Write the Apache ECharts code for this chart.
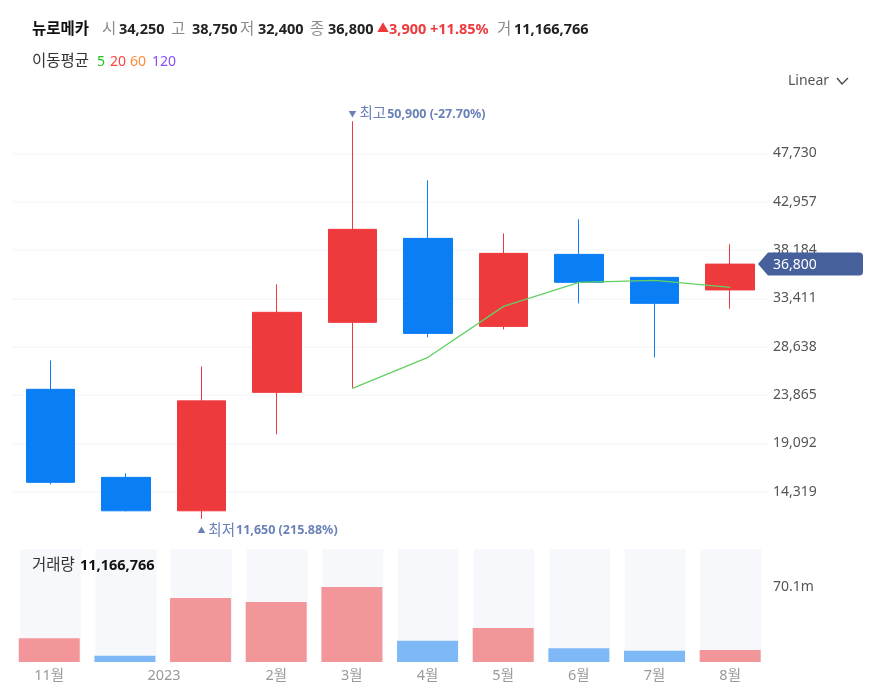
<!DOCTYPE html>
<html>
<head>
<meta charset="utf-8">
<style>
  html, body { margin: 0; padding: 0; background: #fff; }
  #chart { width: 880px; height: 692px; }
</style>
<script src="https://cdn.jsdelivr.net/npm/echarts@6/dist/echarts.min.js"></script>
</head>
<body>
<div id="chart"></div>
<script>
// 월봉 데이터
var months = ['11월', '', '2023', '2월', '3월', '4월', '5월', '6월', '7월', '8월'];
var opens  = [24440, 15750, 12450, 24140, 31050, 39340, 30650, 37760, 35490, 34250];
var closes = [15260, 12450, 23300, 32040, 40230, 29960, 37860, 35000, 32925, 36800];
var lows   = [15060, 12400, 11650, 20000, 24530, 29570, 30350, 32925, 27600, 32400];
var highs  = [27300, 16150, 26700, 34800, 50900, 45065, 39830, 41215, 35490, 38750];
var volumes = [22.2, 5.9, 59.8, 56.1, 70.1, 19.9, 31.8, 12.8, 10.6, 11.17];
var volumeUp = [true, false, true, true, true, false, true, false, false, true];
var ma5 = [null, null, null, null, 24530, 27600, 32630, 35000, 35200, 34500];
var volumeTicks = [70.1];

var stockName = '뉴로메카';
var quoteLabels = ['시', '고', '저', '종', '거'];
var quoteValues = ['34,250', '38,750', '32,400', '36,800', '11,166,766'];
var changeText = ['▲', '3,900', '+11.85%'];
var maNames = ['5', '20', '60', '120'];
var highText = '50,900 (-27.70%)';
var lowText = '11,650 (215.88%)';
var volumeText = '11,166,766';

var FONT = '"Noto Sans", "Noto Sans CJK KR", sans-serif';
var RED = '#ef3a3d', BLUE = '#0a7ef5';
var VOL_RED = '#f2969a', VOL_BLUE = '#7fb8f7';
var MARK = '#6a81b8';

function txt(x, y, text, fill, size, weight) {
  return {
    type: 'text', x: x, y: y, z: 100, silent: true,
    style: {
      text: text, fill: fill, fontFamily: FONT, fontSize: size || 14,
      fontWeight: weight || 'normal', verticalAlign: 'middle', align: 'left'
    }
  };
}

var gLabel = '#8c8c8c', gValue = '#222';
var headerY = 30, HAN = 15.5, NUM = 14.5;
var graphics = [
  txt(32, headerY, stockName, '#111', HAN, 'bold'),
  txt(102, headerY, quoteLabels[0], gLabel, HAN), txt(119, headerY, quoteValues[0], gValue, NUM, 'bold'),
  txt(171, headerY, quoteLabels[1], gLabel, HAN), txt(192, headerY, quoteValues[1], gValue, NUM, 'bold'),
  txt(240, headerY, quoteLabels[2], gLabel, HAN), txt(258, headerY, quoteValues[2], gValue, NUM, 'bold'),
  txt(310, headerY, quoteLabels[3], gLabel, HAN), txt(328, headerY, quoteValues[3], gValue, NUM, 'bold'),
  txt(377, headerY, changeText[0], RED, 12), txt(389, headerY, changeText[1], RED, NUM, 'bold'),
  txt(430, headerY, changeText[2], RED, NUM, 'bold'),
  txt(497, headerY, quoteLabels[4], gLabel, HAN), txt(514, headerY, quoteValues[4], gValue, NUM, 'bold'),
  txt(32, 62, '이동평균', '#333', HAN),
  txt(97, 62, maNames[0], '#22c422'), txt(110, 62, maNames[1], '#ff4040'),
  txt(130, 62, maNames[2], '#ff8a3c'), txt(152, 62, maNames[3], '#8a4dff'),
  txt(788, 81, 'Linear', '#555'),
  {
    type: 'polyline', silent: true, z: 100,
    shape: { points: [[837, 78], [842, 84], [848, 78]] },
    style: { stroke: '#444', lineWidth: 1.3, fill: 'none' }
  },
  txt(32, 566, '거래량', '#333', HAN),
  txt(80, 566, volumeText, '#111', NUM, 'bold')
];

var candleData = opens.map(function(o, i) { return [o, closes[i], lows[i], highs[i]]; });
var volumeData = volumes.map(function(v, i) {
  return { value: v, itemStyle: { color: volumeUp[i] ? VOL_RED : VOL_BLUE } };
});

function markLabel(arrow, word, text, dx, dy) {
  return {
    show: true, position: 'right', distance: 0, offset: [dx, dy],
    formatter: '{a|' + arrow + '}{w|' + word + '}{b|' + text + '}',
    rich: {
      a: { color: MARK, fontFamily: FONT, fontSize: 8, padding: [0, 3, 0, 0] },
      w: { color: MARK, fontFamily: FONT, fontSize: 14.5, padding: [0, 1, 0, 0] },
      b: { color: MARK, fontFamily: FONT, fontSize: 12.5, fontWeight: 'bold' }
    }
  };
}

var hiIdx = highs.indexOf(Math.max.apply(null, highs));
var loIdx = lows.indexOf(Math.min.apply(null, lows));
var last = closes.length - 1;

function renderLastTag(params, api) {
  var y = api.coord([api.value(0), api.value(1)])[1];
  var right = params.coordSys.x + params.coordSys.width;
  return {
    type: 'group',
    children: [
      {
        type: 'path',
        shape: {
          pathData: 'M' + (right - 10) + ' ' + y +
            'L' + right + ' ' + (y - 11.5) + 'L' + (right + 91) + ' ' + (y - 11.5) +
            'Q' + (right + 95) + ' ' + (y - 11.5) + ' ' + (right + 95) + ' ' + (y - 8) +
            'L' + (right + 95) + ' ' + (y + 8) +
            'Q' + (right + 95) + ' ' + (y + 11.5) + ' ' + (right + 91) + ' ' + (y + 11.5) +
            'L' + right + ' ' + (y + 11.5) + 'Z'
        },
        style: { fill: '#46609b' }
      },
      {
        type: 'text',
        style: {
          text: closes[last].toLocaleString('en-US'), x: right + 5, y: y + 0.5,
          fill: '#fff', fontFamily: FONT, fontSize: 14,
          verticalAlign: 'middle', align: 'left'
        }
      }
    ]
  };
}

var option = {
  animation: false,
  backgroundColor: '#fff',
  textStyle: { fontFamily: FONT },
  graphic: graphics,
  grid: [
    { left: 12.5, width: 755.5, top: 105, height: 435.22 },
    { left: 11.4, width: 756.6, top: 549, height: 113 },
    { left: 12.6, width: 756, top: 549, height: 113 }
  ],
  xAxis: [
    {
      type: 'category', gridIndex: 0, data: months,
      axisLine: { show: false }, axisTick: { show: false }, axisLabel: { show: false }
    },
    {
      type: 'category', gridIndex: 1, data: months,
      axisLine: { show: false }, axisTick: { show: false },
      axisLabel: {
        interval: 0, margin: 7, color: '#999', fontSize: 14.5, fontFamily: FONT,
        formatter: function(v) { return v === '2023' ? '{y|' + v + '}' : v; },
        // 연도 라벨은 막대 사이에 걸쳐 있음
        rich: { y: { color: '#999', fontSize: 14.5, fontFamily: FONT, padding: [0, 73, 0, 0] } }
      }
    },
    {
      type: 'category', gridIndex: 2, data: months,
      axisLine: { show: false }, axisTick: { show: false }, axisLabel: { show: false }
    }
  ],
  yAxis: [
    {
      type: 'value', gridIndex: 0, position: 'right', scale: true,
      min: 9546, max: 52503, interval: 4773,
      axisLine: { show: false }, axisTick: { show: false },
      axisLabel: {
        margin: 5, color: '#555', fontSize: 14, fontFamily: FONT,
        padding: [2, 0, 0, 0],
        showMinLabel: false, showMaxLabel: false,
        formatter: function(v) { return v.toLocaleString('en-US'); }
      },
      splitLine: {
        showMinLine: false, showMaxLine: false,
        lineStyle: { color: '#f6f7f9', width: 1.5 }
      }
    },
    {
      type: 'value', gridIndex: 1, position: 'right', min: 0, max: 105.6,
      axisLine: { show: false }, axisTick: { show: false }, splitLine: { show: false },
      axisLabel: {
        margin: 5, color: '#555', fontSize: 14, fontFamily: FONT,
        padding: [2, 0, 0, 0],
        customValues: volumeTicks,
        formatter: function(v) { return v + 'm'; }
      }
    },
    {
      type: 'value', gridIndex: 2, min: 0, max: 105.6,
      axisLine: { show: false }, axisTick: { show: false }, splitLine: { show: false },
      axisLabel: { show: false }
    }
  ],
  series: [
    {
      // 거래량 뒤 옅은 배경 칸
      type: 'bar', name: 'volume-bg', xAxisIndex: 2, yAxisIndex: 2, data: volumes,
      barWidth: 61, silent: true, z: 1,
      showBackground: true, backgroundStyle: { color: '#f6f8fc' },
      itemStyle: { opacity: 0 }
    },
    {
      type: 'bar', name: '거래량', xAxisIndex: 1, yAxisIndex: 1, data: volumeData,
      barWidth: 61, z: 2
    },
    {
      type: 'candlestick', name: stockName, xAxisIndex: 0, yAxisIndex: 0, data: candleData,
      barWidth: 49, z: 3,
      itemStyle: { color: RED, color0: BLUE, borderColor: RED, borderColor0: BLUE, borderWidth: 1 },
      markPoint: {
        symbol: 'circle', symbolSize: 0, silent: true, animation: false,
        data: [
          { coord: [hiIdx, highs[hiIdx]], label: markLabel('▼', '최고', highText, -4, -7) },
          { coord: [loIdx, lows[loIdx]], label: markLabel('▲', '최저', lowText, -4, 12) }
        ]
      }
    },
    {
      type: 'line', name: 'MA5', xAxisIndex: 0, yAxisIndex: 0, data: ma5,
      showSymbol: false, symbol: 'none', z: 4,
      lineStyle: { color: '#62d062', width: 1.3 }
    },
    {
      type: 'custom', name: 'last', xAxisIndex: 0, yAxisIndex: 0, z: 10, silent: true,
      data: [[last, closes[last]]], renderItem: renderLastTag
    }
  ]
};

var chart = echarts.init(document.getElementById('chart'));
chart.setOption(option);
</script>
</body>
</html>
